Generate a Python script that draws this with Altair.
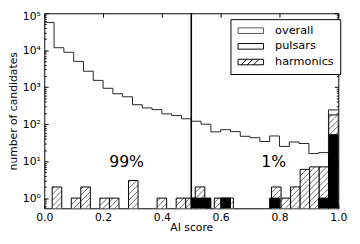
import numpy as np
import pandas as pd
import altair as alt

# ---------------- data ----------------
OVERALL_COUNTS = [56600, 11700, 8800, 5000, 2700, 1530, 935, 665, 550, 336,
                  275, 248, 190, 171, 140, 120, 100, 62, 71, 63,
                  47, 43, 34, 48, 25, 33, 30, 16, 17, 243]
PULSAR_COUNTS = [0, 0, 0, 0, 0, 0, 0, 0, 0, 0,
                 0, 0, 0, 0, 0, 1, 1, 0, 1, 0,
                 0, 0, 0, 1, 0, 0, 0, 0, 1, 52]
HARMONIC_COUNTS = [2, 0, 1, 2, 0, 1, 1, 0, 3, 0,
                   0, 1, 0, 1, 1, 2, 0, 1, 1, 0,
                   0, 0, 0, 2, 1, 2, 6, 7, 7, 178]
SCORE_RANGE = [0.0, 1.0]        # bins of overall / pulsars
HARMONIC_RANGE = [0.027, 1.0]   # bins of harmonics
N_BINS = 30
LEGEND_NAMES = ["overall", "pulsars", "harmonics"]
SPLIT_SCORE = [0.5]
SHARE_LABELS = ["99%", "1%"]
SHARE_X = [0.28, 0.78]
SHARE_Y = [9.5, 9.5]
X_TICKS = [0.0, 0.2, 0.4, 0.6, 0.8, 1.0]
Y_MAJOR = [1, 10, 100, 1000, 10000, 100000]

# ---------------- layout / style ----------------
W, H = 300, 199
YMIN, YMAX = 0.53, 1e5
FONT = "DejaVu Sans"
HATCH_SPACING = 6.0
Y_MINOR = [m * 10.0 ** k for k in range(-1, 5) for m in range(2, 10)
           if YMIN < m * 10.0 ** k < YMAX]

edges = np.linspace(SCORE_RANGE[0], SCORE_RANGE[1], N_BINS + 1)
h_edges = np.linspace(HARMONIC_RANGE[0], HARMONIC_RANGE[1], N_BINS + 1)

step_df = pd.DataFrame({"x": list(edges[:-1]) + [edges[-1]],
                        "y": OVERALL_COUNTS + [OVERALL_COUNTS[-1]]})
pul_df = pd.DataFrame({"x0": edges[:-1], "x1": edges[1:], "c": PULSAR_COUNTS})
pul_df = pul_df[pul_df.c > 0]
harm_df = pd.DataFrame({"x0": h_edges[:-1], "x1": h_edges[1:], "c": HARMONIC_COUNTS})
harm_df = harm_df[harm_df.c > 0]

# hatch "/" lines clipped to each harmonics bar (computed in pixel space)
PPD = H / (np.log10(YMAX) - np.log10(YMIN))
rows = []
for _, r in harm_df.iterrows():
    p0, p1 = r.x0 * W, min(r.x1, 1.0) * W
    q0, q1 = 0.0, (np.log10(r.c) - np.log10(YMIN)) * PPD
    c = np.floor((q0 - p1) / HATCH_SPACING) * HATCH_SPACING
    while c <= q1 - p0:
        pa, pb = max(p0, q0 - c), min(p1, q1 - c)
        if pb - pa > 0.3:
            rows.append({"xa": pa / W, "xb": pb / W,
                         "ya": YMIN * 10 ** ((pa + c) / PPD),
                         "yb": YMIN * 10 ** ((pb + c) / PPD)})
        c += HATCH_SPACING
hatch_df = pd.DataFrame(rows)

x_scale = alt.Scale(domain=SCORE_RANGE, nice=False, zero=False)
y_scale = alt.Scale(type="log", domain=[YMIN, YMAX], nice=False)

common = dict(domain=False, grid=False, tickColor="black", tickWidth=1,
              labelFont=FONT, labelFontSize=11, labelColor="black",
              titleFont=FONT, titleFontSize=11, titleColor="black",
              titleFontWeight="normal")

ax_bottom = alt.Axis(orient="bottom", values=X_TICKS, format=".1f", offset=-4,
                     tickSize=4, labelPadding=3, labelFlush=False,
                     labelOverlap=False, title="AI score", titlePadding=0, **common)
ax_top = alt.Axis(orient="top", values=X_TICKS, offset=-4, tickSize=4,
                  labels=False, title=None, **common)
ax_left = alt.Axis(orient="left", values=Y_MAJOR, offset=-4, tickSize=4,
                   labelPadding=4, labelOverlap=False,
                   labelOffset={"condition": {"test": "datum.value >= 100000", "value": 3},
                                "value": 0},
                   labelExpr="'10' + ['⁰','¹','²','³','⁴','⁵'][round(log(datum.value)/LN10)]",
                   title="number of candidates", titlePadding=4, **common)
ax_right = alt.Axis(orient="right", values=Y_MAJOR, offset=-4, tickSize=4,
                    labels=False, title=None, **common)
ax_left_minor = alt.Axis(orient="left", values=Y_MINOR, offset=-2, tickSize=2,
                         labels=False, title=None, **common)
ax_right_minor = alt.Axis(orient="right", values=Y_MINOR, offset=-2, tickSize=2,
                          labels=False, title=None, **common)

harm = alt.Chart(harm_df).mark_rect(fill="white", stroke="black", strokeWidth=1,
                                    clip=True).encode(
    x=alt.X("x0:Q", scale=x_scale, axis=ax_bottom),
    x2="x1:Q",
    y=alt.Y("c:Q", scale=y_scale, axis=ax_left),
    y2=alt.datum(0.1),
)

hatch = alt.Chart(hatch_df).mark_rule(color="black", strokeWidth=0.6,
                                      clip=True).encode(
    x=alt.X("xa:Q", scale=x_scale, axis=ax_top),
    x2="xb:Q",
    y=alt.Y("ya:Q", scale=y_scale, axis=ax_right),
    y2="yb:Q",
)

puls = alt.Chart(pul_df).mark_rect(fill="black", stroke="black", strokeWidth=1,
                                   clip=True).encode(
    x=alt.X("x0:Q", scale=x_scale, axis=None),
    x2="x1:Q",
    y=alt.Y("c:Q", scale=y_scale, axis=ax_left_minor),
    y2=alt.datum(0.1),
)

step = alt.Chart(step_df).mark_line(interpolate="step-after", color="#222",
                                    strokeWidth=1, clip=True).encode(
    x=alt.X("x:Q", scale=x_scale, axis=None),
    y=alt.Y("y:Q", scale=y_scale, axis=ax_right_minor),
)

vline = alt.Chart(pd.DataFrame({"s": SPLIT_SCORE})).mark_rule(
    color="black", strokeWidth=1.6).encode(
    x=alt.X("s:Q", scale=x_scale, axis=None))

share = alt.Chart(pd.DataFrame({"t": SHARE_LABELS, "x": SHARE_X, "y": SHARE_Y})
                  ).mark_text(font=FONT, fontSize=16, color="black").encode(
    x=alt.X("x:Q", scale=x_scale, axis=None),
    y=alt.Y("y:Q", scale=y_scale, axis=None),
    text="t:N",
)

RECT = "M-4.33,-0.95H4.33V0.95H-4.33Z"
HATCH_RECT = RECT + " M-3.3,0.95L-1.4,-0.95 M-1.2,0.95L0.7,-0.95 M0.9,0.95L2.8,-0.95"
leg = alt.Legend(title=None, orient="none", legendX=190, legendY=6,
                 symbolSize=36, symbolStrokeWidth=1, symbolOffset=9,
                 labelOffset=19, labelFont=FONT, labelFontSize=11.5,
                 labelColor="black", strokeColor="black", fillColor="white",
                 padding=6, rowPadding=3)
legend_layer = alt.Chart(pd.DataFrame({"name": LEGEND_NAMES})).mark_point(
    opacity=0, filled=True).encode(
    fill=alt.Fill("name:N", scale=alt.Scale(domain=LEGEND_NAMES,
                                            range=["white", "black", "white"]),
                  legend=leg),
    stroke=alt.Stroke("name:N", scale=alt.Scale(domain=LEGEND_NAMES,
                                                range=["#555", "black", "black"]),
                      legend=leg),
    shape=alt.Shape("name:N", scale=alt.Scale(domain=LEGEND_NAMES,
                                              range=[RECT, RECT, HATCH_RECT]),
                    legend=leg),
)

chart = alt.layer(harm, hatch, puls, step, vline, share, legend_layer).resolve_axis(
    x="independent", y="independent"
).properties(
    width=W, height=H,
    autosize=alt.AutoSizeParams(type="none"),
    padding={"left": 37, "top": 3, "right": 14, "bottom": 32},
    background="white",
).configure_view(stroke="black", strokeWidth=1)

chart.save("out.html", embed_options={"renderer": "svg", "actions": False})
